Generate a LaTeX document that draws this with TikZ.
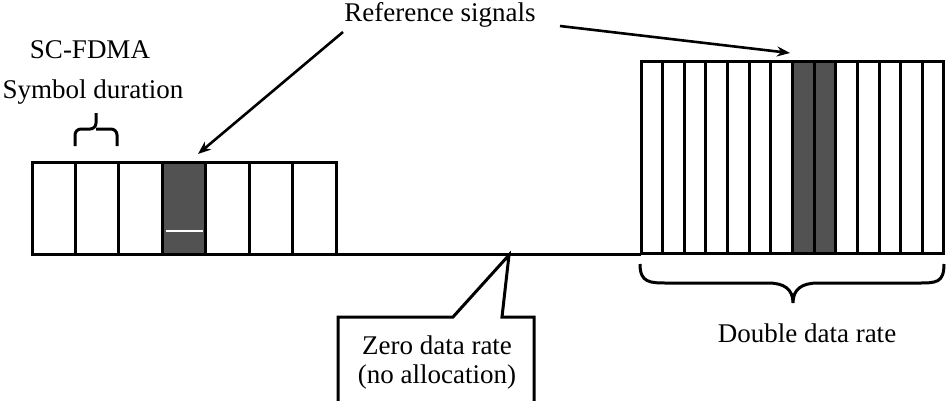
\documentclass[tikz,border=0pt]{standalone}
\usepackage{fontspec}
\setmainfont{Liberation Serif}
\usetikzlibrary{arrows.meta}
\begin{document}
\begin{tikzpicture}[x=1pt,y=-1pt,
  frame/.style={draw=black,line width=3pt},
  rscell/.style={frame,fill=black!68},
  pointer/.style={draw=black,line width=2.6pt,-{Stealth[length=13pt,width=10pt]}},
  lbl/.style={font=\fontsize{27}{32}\selectfont,inner sep=0pt,align=center}]
\useasboundingbox (0,0) rectangle (946,400);
\clip (0,0) rectangle (946,400);

% time axis between the two allocations
\draw[line width=3pt] (336,254) -- (641,254);

% normal-rate allocation: 7 symbols, the 4th carries the reference signal
\foreach \i in {0,...,6} {
  \pgfmathsetmacro{\xa}{32+\i*43.43}
  \pgfmathsetmacro{\xb}{32+(\i+1)*43.43}
  \ifnum\i=3
    \draw[rscell] (\xa,162) rectangle (\xb,254);
  \else
    \draw[frame] (\xa,162) rectangle (\xb,254);
  \fi
}
\draw[white,line width=1.3pt] (165.5,231) -- (202.5,231);
\coordinate (rsleft) at (198,154);

% double-rate allocation: 14 symbols, two reference-signal symbols
\foreach \i in {0,...,13} {
  \pgfmathsetmacro{\xa}{641+\i*21.64}
  \pgfmathsetmacro{\xb}{641+(\i+1)*21.64}
  \ifnum\i=7
    \draw[rscell] (\xa,61) rectangle (\xb,253);
  \else\ifnum\i=8
    \draw[rscell] (\xa,61) rectangle (\xb,253);
  \else
    \draw[frame] (\xa,61) rectangle (\xb,253);
  \fi\fi
}
\coordinate (rsright) at (790,53);

% labels
\node[lbl] (scfdma) at (90,50) {SC-FDMA};
\node[lbl] (symdur) at (93,92) {Symbol duration};
\node[lbl] (ref) at (440,15) {Reference signals};
\node[lbl] (double) at (807,333) {Double data rate};

% reference-signal pointers
\coordinate (refl) at (343,32);
\coordinate (refr) at (560,26);
\draw[pointer] (refl) -- (rsleft);
\draw[pointer] (refr) -- (rsright);

% symbol-duration brace over one symbol
\draw[line width=3pt,rounded corners=6pt]
  (75,146) -- (75,129) -- (96,129) -- (96,113);
\draw[line width=3pt,rounded corners=6pt]
  (117,146) -- (117,129) -- (96,129);

% brace under the double-rate allocation
\draw[line width=3pt]
  (640,264) .. controls (640,283) and (650,283) .. (668,283) -- (768,283)
  .. controls (784,283) and (793,289) .. (793,303)
  .. controls (793,289) and (802,283) .. (818,283) -- (918,283)
  .. controls (936,283) and (944,283) .. (944,264);

% callout for the empty interval
\coordinate (gaptip) at (509,255);
\draw[line width=3pt,line join=miter]
  (338,402) -- (338,317) -- (453,317) -- (gaptip) -- (502,317)
  -- (534,317) -- (534,402);
\node[lbl] (zero) at (437,345) {Zero data rate};
\node[lbl] (noalloc) at (437,377) {(no allocation)};
\end{tikzpicture}
\end{document}
